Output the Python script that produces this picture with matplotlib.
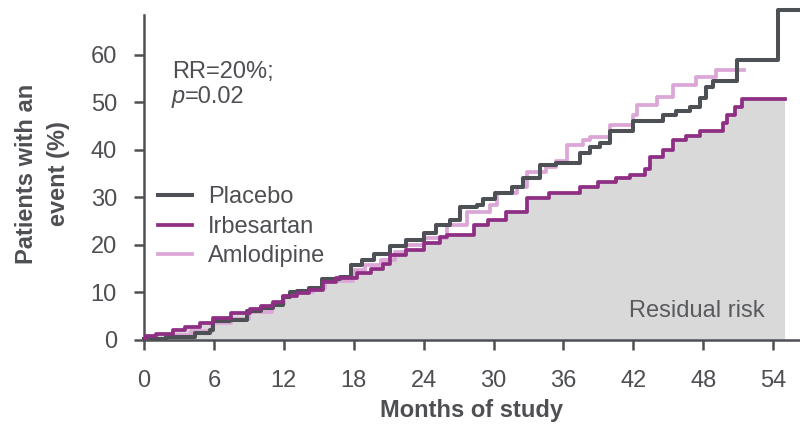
import matplotlib
matplotlib.use("Agg")
import matplotlib.pyplot as plt

plt.rcParams["font.family"] = ["Liberation Sans", "DejaVu Sans"]

# Cumulative event curves (months, % of patients)
placebo_t = [0, 1.9, 4.4, 5.7, 5.9, 7.4, 8.8, 10.0, 11.1, 11.9, 12.5, 13.1, 14.2,
             15.3, 16.8, 17.8, 18.7, 19.7, 21.1, 22.5, 24.0, 25.1, 26.3, 27.1,
             28.6, 29.1, 30.1, 31.6, 32.5, 34.0, 35.4, 37.4, 38.3, 39.1, 40.0,
             42.0, 44.5, 45.7, 46.9, 47.7, 48.2, 48.8, 50.9, 54.4, 56.3]
placebo_v = [0.3, 0.7, 1.4, 2.2, 3.9, 4.2, 6.0, 6.7, 7.4, 9.1, 10.0, 10.4, 10.9,
             12.8, 13.3, 15.8, 16.8, 18.2, 19.8, 21.0, 22.5, 24.2, 25.3, 28.1,
             28.4, 29.6, 30.9, 32.3, 34.0, 36.8, 37.2, 39.3, 40.7, 41.4, 43.9,
             46.0, 47.4, 48.2, 49.1, 50.9, 53.3, 54.6, 58.9, 69.5, 69.5]

irbesartan_t = [0, 0.2, 1.0, 2.5, 3.5, 4.8, 5.9, 7.5, 9.1, 10.0, 11.1, 11.9, 13.1,
                14.2, 15.4, 16.5, 18.3, 19.5, 20.5, 21.1, 22.5, 24.0, 25.4, 26.0,
                28.3, 29.5, 31.1, 32.9, 34.8, 37.4, 39.0, 40.5, 41.7, 43.0, 43.4,
                44.5, 45.4, 46.5, 47.7, 49.7, 50.0, 50.7, 51.3, 55.0]
irbesartan_v = [0.3, 0.8, 1.3, 2.1, 2.8, 3.6, 4.6, 5.6, 6.5, 7.1, 7.9, 9.3, 9.8,
                10.5, 12.3, 13.0, 14.0, 15.0, 16.1, 17.9, 19.0, 20.4, 21.7, 22.1,
                24.2, 25.3, 27.0, 29.8, 30.9, 32.3, 33.3, 34.0, 34.7, 36.0, 38.5,
                40.0, 42.1, 43.0, 43.9, 45.6, 47.4, 49.0, 50.8, 50.8]

amlodipine_t = [0, 2.0, 4.0, 5.8, 7.5, 9.0, 11.0, 12.0, 13.0, 14.5, 15.5, 17.9,
                19.0, 20.3, 21.5, 22.5, 24.0, 26.0, 27.7, 29.7, 30.3, 32.0, 32.9,
                34.5, 35.4, 36.3, 37.7, 38.3, 40.0, 42.0, 42.3, 44.0, 45.4, 47.4,
                49.1, 51.5]
amlodipine_v = [0.3, 1.0, 1.8, 3.5, 4.5, 5.8, 7.5, 9.2, 10.0, 11.0, 12.5, 14.7,
                15.8, 16.8, 18.5, 20.0, 21.4, 24.2, 27.0, 28.4, 30.9, 32.3, 35.4,
                36.5, 37.6, 41.1, 42.1, 42.8, 45.3, 47.4, 49.5, 51.2, 53.7, 55.4,
                56.8, 56.8]

x_ticks = [0, 6, 12, 18, 24, 30, 36, 42, 48, 54]
y_ticks = [0, 10, 20, 30, 40, 50, 60]

C_PLACEBO = "#4d5055"
C_IRB = "#8e2f84"
C_AML = "#dca6d7"
C_FILL = "#d9d9d9"
C_TEXT = "#4d4f53"
FS = 17

fig = plt.figure(figsize=(8.0, 4.25), dpi=100)
ax = fig.add_axes([0.18, 0.2, 0.82, 0.7824])

ax.fill_between(irbesartan_t, 0, irbesartan_v, step="post", color=C_FILL,
                linewidth=0, zorder=1)
ax.step(amlodipine_t, amlodipine_v, where="post", color=C_AML, lw=2.7,
        label="Amlodipine", zorder=2)
ax.step(placebo_t, placebo_v, where="post", color=C_PLACEBO, lw=2.9,
        label="Placebo", zorder=3, clip_on=False)
ax.step(irbesartan_t, irbesartan_v, where="post", color=C_IRB, lw=2.7,
        label="Irbesartan", zorder=4)

ax.set_xlim(0, 56.3)
ax.set_ylim(0, 70)
ax.set_xticks(x_ticks)
ax.set_yticks(y_ticks)

for side in ("top", "right"):
    ax.spines[side].set_visible(False)
for side in ("left", "bottom"):
    ax.spines[side].set_color(C_PLACEBO)
    ax.spines[side].set_linewidth(1.8)
ax.spines["left"].set_bounds(0, 68.4)

ax.tick_params(axis="both", direction="out", length=7.5, width=1.8,
               color=C_PLACEBO, labelcolor=C_TEXT, labelsize=FS)
ax.tick_params(axis="x", pad=14)
ax.tick_params(axis="y", pad=12)

ax.set_xlabel("Months of study", fontsize=FS, fontweight="bold",
              color=C_TEXT, labelpad=5)
ax.set_ylabel("Patients with an\nevent (%)", fontsize=FS, fontweight="bold",
              color=C_TEXT, labelpad=15, linespacing=1.5)

handles, labels = ax.get_legend_handles_labels()
order = [labels.index(n) for n in ("Placebo", "Irbesartan", "Amlodipine")]
leg = ax.legend([handles[i] for i in order], [labels[i] for i in order],
                loc="upper left", bbox_to_anchor=(0.021, 0.462), frameon=False,
                fontsize=FS, handlelength=1.45, handletextpad=0.68,
                labelspacing=0.32, borderpad=0, borderaxespad=0)
for t in leg.get_texts():
    t.set_color(C_TEXT)

ax.text(2.4, 55.2, "RR=20%;", fontsize=FS, color=C_TEXT, ha="left",
        va="baseline")
p_txt = ax.text(2.4, 49.9, "p", fontsize=FS, color=C_TEXT, ha="left",
                va="baseline", style="italic")
ax.annotate("=0.02", xy=(1, 0), xycoords=p_txt, fontsize=FS, color=C_TEXT,
            ha="left", va="bottom")

ax.text(53.3, 4.84, "Residual risk", fontsize=FS, color="#595a5e",
        ha="right", va="baseline", zorder=5)

fig.savefig("out.png", dpi=100)
